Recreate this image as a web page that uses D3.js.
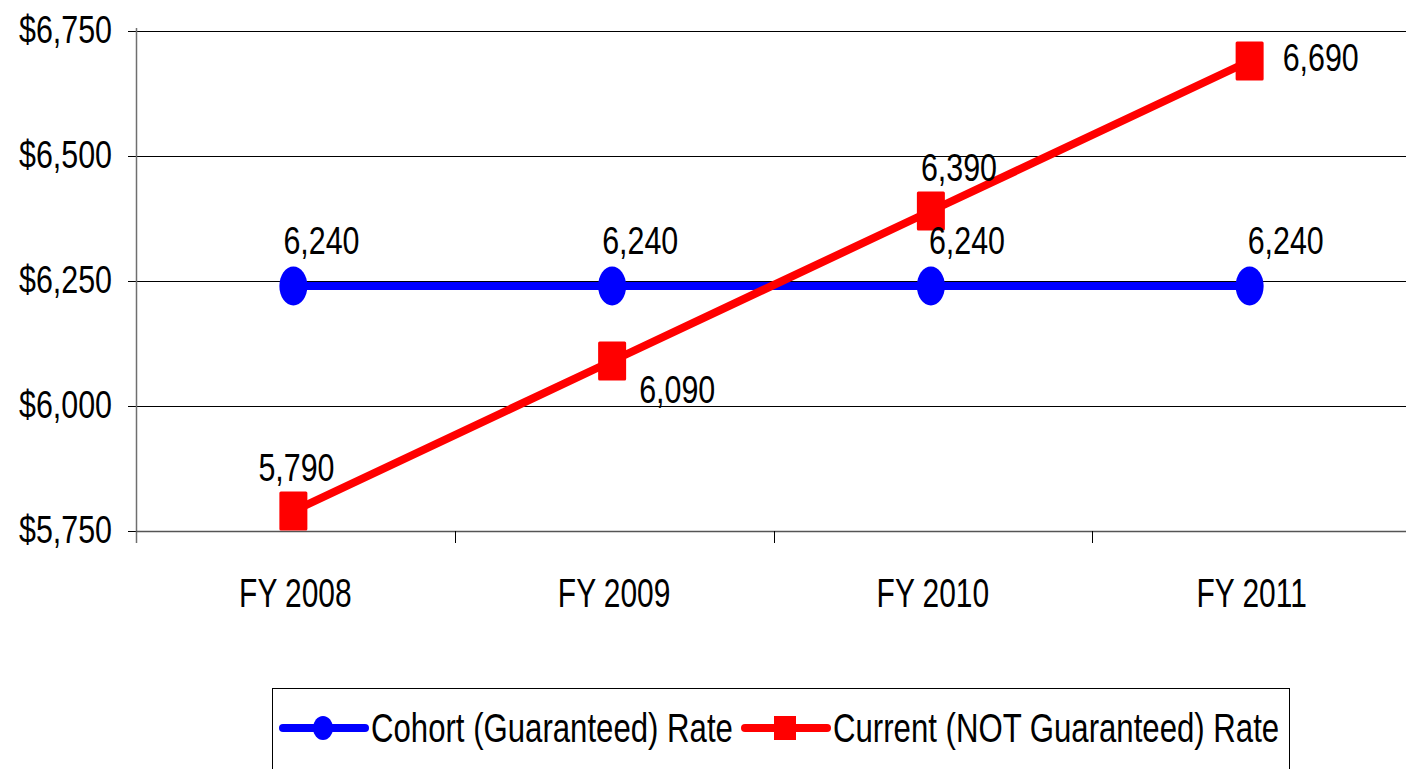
<!DOCTYPE html>
<html>
<head>
<meta charset="utf-8">
<script src="https://cdn.jsdelivr.net/npm/d3@7"></script>
<style>
  html, body { margin: 0; padding: 0; background: #fff; }
  svg { display: block; }
  text { font-family: "Liberation Sans", Arial, sans-serif; fill: #000; }
</style>
</head>
<body>
<div id="chart"></div>
<script>
var w = 1406;
var h = 769;

var categories = ["FY 2008", "FY 2009", "FY 2010", "FY 2011"];
var cohortRate = [6240, 6240, 6240, 6240];
var currentRate = [5790, 6090, 6390, 6690];
var yTicks = [5750, 6000, 6250, 6500, 6750];
var seriesNames = ["Cohort (Guaranteed) Rate", "Current (NOT Guaranteed) Rate"];
// where each red value label sits relative to its marker
var currentLabelPos = ["aboveCenter", "belowRight", "above", "right"];

var plotLeft = 136, plotTop = 31, plotBottom = 531;
var squeeze = 0.8; // the reference font is a narrow one

var svg = d3.select("#chart")
    .append("svg")
    .attr("width", w)
    .attr("height", h);

var x = d3.scaleBand()
    .domain(categories)
    .range([plotLeft, plotLeft + 4 * 318.75]);

var y = d3.scaleLinear()
    .domain([5750, 6750])
    .range([plotBottom, plotTop]);

// narrow text: place at (tx, ty) and squeeze horizontally
function narrowText(sel, tx, ty, sx) {
    sel.attr("x", 0).attr("y", 0)
        .attr("transform", function (d, i) {
            return "translate(" + tx(d, i) + "," + ty(d, i) + ") scale(" + (sx || squeeze) + ",1)";
        });
    return sel;
}

//gridlines
svg.selectAll("line.grid")
    .data(yTicks)
    .enter()
    .append("line")
    .attr("class", "grid")
    .attr("x1", plotLeft - 8)
    .attr("x2", w)
    .attr("y1", function (d) { return Math.round(y(d)) + 0.5; })
    .attr("y2", function (d) { return Math.round(y(d)) + 0.5; })
    .attr("stroke", "#000")
    .attr("stroke-width", 1)
    .attr("shape-rendering", "crispEdges");

//y tick labels
svg.selectAll("text.ytick")
    .data(yTicks)
    .enter()
    .append("text")
    .attr("class", "ytick")
    .attr("text-anchor", "end")
    .attr("font-size", 38)
    .text(function (d) { return "$" + d3.format(",")(d); })
    .call(narrowText, function () { return 112; }, function (d) { return y(d) + 12; });

//axes lines
svg.append("line")
    .attr("x1", plotLeft + 0.5).attr("x2", plotLeft + 0.5)
    .attr("y1", plotTop - 3).attr("y2", plotBottom + 12)
    .attr("stroke", "#6f6f6f").attr("stroke-width", 1.5);
svg.append("line")
    .attr("x1", plotLeft).attr("x2", w)
    .attr("y1", plotBottom + 0.5).attr("y2", plotBottom + 0.5)
    .attr("stroke", "#555").attr("stroke-width", 1.5);

//category ticks
svg.selectAll("line.xtick")
    .data(categories.slice(1))
    .enter()
    .append("line")
    .attr("class", "xtick")
    .attr("x1", function (d) { return Math.round(x(d)) + 0.5; })
    .attr("x2", function (d) { return Math.round(x(d)) + 0.5; })
    .attr("y1", plotBottom)
    .attr("y2", plotBottom + 12)
    .attr("stroke", "#000")
    .attr("stroke-width", 1);

svg.selectAll("text.xlabel")
    .data(categories)
    .enter()
    .append("text")
    .attr("class", "xlabel")
    .attr("text-anchor", "middle")
    .attr("font-size", 41)
    .text(function (d) { return d; })
    .call(narrowText, function (d) { return x(d) + x.bandwidth() / 2; }, function () { return 607; }, 0.73);

function cx(i) { return x(categories[i]) + x.bandwidth() / 2 - 2; }

var line = d3.line()
    .x(function (d, i) { return cx(i); })
    .y(function (d) { return y(d); });

//cohort series
svg.append("path")
    .datum(cohortRate)
    .attr("d", line)
    .attr("fill", "none")
    .attr("stroke", "#0000ff")
    .attr("stroke-width", 8);

svg.selectAll("ellipse.cohort")
    .data(cohortRate)
    .enter()
    .append("ellipse")
    .attr("class", "cohort")
    .attr("cx", function (d, i) { return cx(i); })
    .attr("cy", function (d) { return y(d); })
    .attr("rx", 14)
    .attr("ry", 19.5)
    .attr("fill", "#0000ff");

//current series
svg.append("path")
    .datum(currentRate)
    .attr("d", line)
    .attr("fill", "none")
    .attr("stroke", "#ff0000")
    .attr("stroke-width", 8);

svg.selectAll("rect.current")
    .data(currentRate)
    .enter()
    .append("rect")
    .attr("class", "current")
    .attr("x", function (d, i) { return cx(i) - 14; })
    .attr("y", function (d) { return y(d) - 19.5; })
    .attr("width", 28)
    .attr("height", 39)
    .attr("rx", 1.5)
    .attr("fill", "#ff0000");

//value labels
svg.selectAll("text.cohortLabel")
    .data(cohortRate)
    .enter()
    .append("text")
    .attr("class", "cohortLabel")
    .attr("font-size", 38)
    .text(function (d) { return d3.format(",")(d); })
    .call(narrowText,
        function (d, i) { return cx(i) - (i < 2 ? 10 : 2); },
        function (d) { return y(d) - 32; });

svg.selectAll("text.currentLabel")
    .data(currentRate)
    .enter()
    .append("text")
    .attr("class", "currentLabel")
    .attr("font-size", 38)
    .text(function (d) { return d3.format(",")(d); })
    .call(narrowText,
        function (d, i) {
            var p = currentLabelPos[i];
            if (p == "belowRight") return cx(i) + 27;
            if (p == "right") return cx(i) + 33;
            if (p == "aboveCenter") return cx(i) - 35;
            return cx(i) - 10;
        },
        function (d, i) {
            var p = currentLabelPos[i];
            if (p == "belowRight") return y(d) + 42;
            if (p == "right") return y(d) + 10;
            return y(d) - 30;
        });

//legend
var legend = svg.append("g");
legend.append("rect")
    .attr("x", 272.5)
    .attr("y", 688.5)
    .attr("width", 1017)
    .attr("height", 120)
    .attr("fill", "#fff")
    .attr("stroke", "#000")
    .attr("stroke-width", 1);

var legendItems = [
    {name: seriesNames[0], color: "#0000ff", x0: 283, shape: "circle"},
    {name: seriesNames[1], color: "#ff0000", x0: 745, shape: "square"}
];
var ly = 728;
legendItems.forEach(function (it) {
    legend.append("line")
        .attr("x1", it.x0).attr("x2", it.x0 + 82)
        .attr("y1", ly).attr("y2", ly)
        .attr("stroke", it.color)
        .attr("stroke-width", 8)
        .attr("stroke-linecap", "round");
    if (it.shape == "circle") {
        legend.append("ellipse")
            .attr("cx", it.x0 + 40).attr("cy", ly)
            .attr("rx", 10).attr("ry", 12)
            .attr("fill", it.color);
    } else {
        legend.append("rect")
            .attr("x", it.x0 + 29).attr("y", ly - 12)
            .attr("width", 22).attr("height", 24)
            .attr("fill", it.color);
    }
    legend.append("text")
        .datum(it)
        .attr("font-size", 41)
        .text(it.name)
        .call(narrowText, function () { return it.x0 + 88; }, function () { return ly + 14; }, 0.76);
});
</script>
</body>
</html>
